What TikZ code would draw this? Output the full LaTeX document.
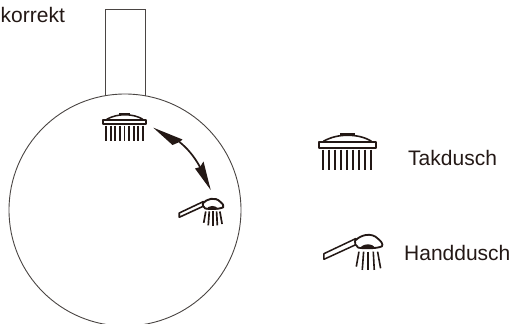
\documentclass[tikz,border=0pt]{standalone}
\usepackage{fontspec}
\setmainfont{Liberation Sans}
\definecolor{ink}{HTML}{231815}
\definecolor{edge}{HTML}{4A4543}
\tikzset{
  outline/.style={draw=edge,line width=0.9pt},
  label/.style={text=ink,font=\fontsize{21}{24}\selectfont,inner sep=0pt,anchor=base west},
  topshower/.pic={
    \begin{scope}[line join=round]
      \fill[ink] (122,18) -- (122,9) -- (166,9) -- (166,18) -- cycle;
      \draw[ink,line width=#1*1.6pt] (72,35) .. controls (95,22) and (120,17) .. (144,17) .. controls (170,17) and (195,22) .. (216,35);
      \draw[ink,line width=#1*2pt] (59,36) -- (229,36) -- (229,54) -- (59,54) -- cycle;
      \foreach \x in {70,88,106,125,143,161,180,198,216}
        \draw[ink,line width=#1*2pt] (\x,60) -- (\x,122);
    \end{scope}
  },
  handshower/.pic={
    \begin{scope}[line join=round]
      \draw[ink,line width=#1*1.5pt,fill=white] (42,86) -- (137,41) -- (140,58) -- (42,103) -- cycle;
      \draw[ink,line width=#1*1.8pt,fill=white] (135,48) .. controls (150,30) and (185,20) .. (205,42) .. controls (215,50) and (220,58) .. (216,64) .. controls (205,70) and (165,72) .. (145,68) .. controls (138,62) and (132,55) .. (135,48) -- cycle;
      \fill[ink] (149,72) .. controls (155,55) and (190,52) .. (197,72) -- cycle;
      \draw[ink,line width=#1*1.6pt] (147,80) -- (139,125);
      \draw[ink,line width=#1*1.6pt] (161,80) -- (157,135);
      \draw[ink,line width=#1*1.6pt] (175,80) -- (175,136);
      \draw[ink,line width=#1*1.6pt] (190,80) -- (193,135);
      \draw[ink,line width=#1*1.6pt] (203,80) -- (212,130);
    \end{scope}
  }
}
\begin{document}
\begin{tikzpicture}[x=1pt,y=-1pt]
  \useasboundingbox (0,0) rectangle (514,324);
  \clip (0,0) rectangle (514,324);
  % wall circle and pipe
  \begin{scope}
    \clip (0,0) rectangle (514,323);
    \draw[outline] (125,210) circle[radius=116];
  \end{scope}
  \draw[outline] (105,95.7) -- (105,9.5) -- (145,9.5) -- (145,95.7);
  % icons
  \begin{scope}[shift={(88.5,110.5)},x=0.252pt,y=-0.252pt]
    \pic {topshower={0.95}};
  \end{scope}
  \begin{scope}[shift={(299.5,129.6)},x=0.333pt,y=-0.333pt]
    \pic {topshower={1}};
  \end{scope}
  \begin{scope}[shift={(168.7,191.3)},x=0.252pt,y=-0.252pt]
    \pic {handshower={1.05}};
  \end{scope}
  \begin{scope}[shift={(310,225)},x=0.333pt,y=-0.333pt]
    \pic {handshower={1}};
  \end{scope}
  % arrow
  \coordinate (a1) at (153.3,127.7);
  \coordinate (a2) at (210.7,190);
  \coordinate (n1) at (179.5,142);
  \coordinate (n2) at (200,167);
  \draw[ink,line width=1.7pt] (n1) .. controls (187,148) and (194,156) .. (n2);
  \fill[ink] (a1) -- (182.5,139.5) -- (n1) -- (172.5,145) -- cycle;
  \fill[ink] (a2) -- (203.5,161.5) -- (n2) -- (195,168.5) -- cycle;
  % labels
  \node[label] (korrekt) at (0.5,23) {korrekt};
  \node[label] (tak) at (408,165.5) {Takdusch};
  \node[label] (hand) at (404,260.5) {Handdusch};
\end{tikzpicture}
\end{document}
